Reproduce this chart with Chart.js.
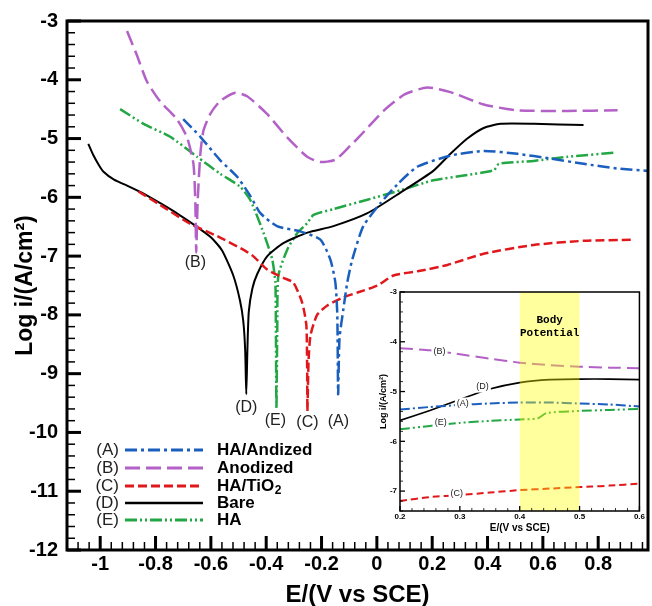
<!DOCTYPE html>
<html lang="en">
<head>
<meta charset="UTF-8">
<title>Potentiodynamic Polarization</title>
<style>
    body { margin: 0; padding: 0; background: #fff; }
    .wrap { position: relative; width: 652px; height: 606px; }
    #mainChart { position: absolute; left: 0; top: 0; }
    #insetChart { position: absolute; left: 376px; top: 284px; }
</style>
<script src="https://cdn.jsdelivr.net/npm/chart.js"></script>
</head>
<body>
<div class="wrap">
    <canvas id="mainChart" width="652" height="606"></canvas>
    <canvas id="insetChart" width="270" height="250"></canvas>
</div>
<script>
// ---- data: E (V vs SCE) and log i (A/cm2) ----
// (A) HA/Andized
const potA = [-0.70, -0.638, -0.566, -0.505, -0.457, -0.421, -0.361, -0.277, -0.204, -0.168, -0.150, -0.143, -0.140, -0.135, -0.121, -0.107, -0.089, -0.049, 0.013, 0.074, 0.146, 0.266, 0.386, 0.508, 0.627, 0.747, 0.870, 0.980];
const logA = [-4.67, -4.97, -5.37, -5.65, -5.98, -6.27, -6.49, -6.58, -6.72, -7.06, -7.45, -8.00, -9.35, -8.40, -7.90, -7.45, -7.06, -6.49, -6.10, -5.78, -5.48, -5.29, -5.21, -5.26, -5.34, -5.43, -5.51, -5.55];
// (B) Anodized
const potB = [-0.903, -0.870, -0.831, -0.783, -0.723, -0.686, -0.663, -0.656, -0.653, -0.648, -0.638, -0.627, -0.602, -0.566, -0.512, -0.469, -0.397, -0.324, -0.252, -0.204, -0.150, -0.096, -0.060, 0.024, 0.100, 0.182, 0.266, 0.386, 0.508, 0.689, 0.870];
const logB = [-3.17, -3.55, -4.03, -4.37, -4.67, -4.98, -5.43, -6.10, -6.94, -6.10, -5.26, -4.87, -4.58, -4.36, -4.22, -4.28, -4.58, -4.98, -5.31, -5.40, -5.36, -5.12, -4.95, -4.53, -4.25, -4.13, -4.21, -4.42, -4.52, -4.53, -4.52];
// (C) HA/TiO2
const potC = [-0.862, -0.783, -0.675, -0.577, -0.483, -0.447, -0.396, -0.338, -0.302, -0.270, -0.255, -0.252, -0.251, -0.247, -0.240, -0.216, -0.179, -0.121, -0.070, 0.002, 0.060, 0.157, 0.255, 0.386, 0.567, 0.747, 0.928];
const logC = [-5.90, -6.13, -6.45, -6.66, -6.89, -7.00, -7.23, -7.37, -7.45, -7.79, -8.17, -8.90, -9.64, -8.80, -8.35, -8.00, -7.84, -7.70, -7.62, -7.50, -7.33, -7.25, -7.15, -6.96, -6.81, -6.74, -6.72];
// (D) Bare
const potD = [-1.043, -1.025, -1.005, -0.989, -0.950, -0.903, -0.850, -0.783, -0.720, -0.663, -0.600, -0.560, -0.519, -0.495, -0.483, -0.476, -0.472, -0.468, -0.463, -0.450, -0.432, -0.396, -0.338, -0.251, -0.157, -0.034, 0.085, 0.204, 0.266, 0.327, 0.386, 0.447, 0.567, 0.747];
const logD = [-5.09, -5.28, -5.45, -5.56, -5.70, -5.80, -5.92, -6.10, -6.28, -6.46, -6.68, -6.90, -7.33, -7.75, -8.10, -8.60, -9.35, -8.60, -7.95, -7.55, -7.30, -7.00, -6.78, -6.60, -6.49, -6.27, -5.92, -5.55, -5.26, -5.00, -4.82, -4.75, -4.75, -4.77];
// (E) HA
const potE = [-0.928, -0.843, -0.747, -0.650, -0.566, -0.494, -0.457, -0.410, -0.378, -0.367, -0.365, -0.363, -0.360, -0.356, -0.324, -0.288, -0.252, -0.229, -0.157, -0.034, 0.085, 0.204, 0.327, 0.423, 0.441, 0.567, 0.689, 0.863];
const logE = [-4.50, -4.75, -4.97, -5.31, -5.60, -5.82, -6.05, -6.60, -7.06, -7.45, -8.20, -9.60, -8.20, -7.33, -6.89, -6.61, -6.44, -6.30, -6.20, -6.04, -5.88, -5.71, -5.62, -5.54, -5.43, -5.38, -5.31, -5.24];

// inset (zoom on 0.2 - 0.6 V)
const insetPot = [0.20, 0.25, 0.30, 0.35, 0.40, 0.45, 0.50, 0.55, 0.60];
const insetLogA = [-5.36, -5.31, -5.27, -5.24, -5.22, -5.22, -5.24, -5.26, -5.30];
const insetLogB = [-4.13, -4.17, -4.25, -4.34, -4.42, -4.47, -4.50, -4.52, -4.53];
const insetPotC = [0.20, 0.25, 0.30, 0.35, 0.40, 0.45, 0.50, 0.52, 0.55, 0.60];
const insetLogC = [-7.20, -7.12, -7.08, -7.03, -6.98, -6.95, -6.92, -6.91, -6.89, -6.85];
const insetLogD = [-5.58, -5.38, -5.16, -4.95, -4.82, -4.76, -4.75, -4.75, -4.76];
const insetPotE = [0.20, 0.25, 0.30, 0.35, 0.40, 0.43, 0.445, 0.50, 0.55, 0.60];
const insetLogE = [-5.76, -5.69, -5.63, -5.59, -5.56, -5.54, -5.43, -5.39, -5.37, -5.35];

const seriesTags = ['(A)', '(B)', '(C)', '(D)', '(E)'];
const seriesNames = ['HA/Andized', 'Anodized', 'HA/TiO2', 'Bare', 'HA'];

// tick labels
const xTicks = [-1, -0.8, -0.6, -0.4, -0.2, 0, 0.2, 0.4, 0.6, 0.8];
const yTicks = [-12, -11, -10, -9, -8, -7, -6, -5, -4, -3];
const insetXTicks = [0.2, 0.3, 0.4, 0.5, 0.6];
const insetYTicks = [-7, -6, -5, -4, -3];

// where the (A)..(E) tags sit, in data units
const mainTagPos = [[-0.139, -9.81], [-0.656, -7.11], [-0.251, -9.84], [-0.472, -9.57], [-0.367, -9.79]];
const insetTagPos = [[0.305, -5.24], [0.266, -4.20], [0.295, -7.04], [0.338, -4.90], [0.268, -5.62]];
const bodyBand = [0.4, 0.5];

// ---- styles ----
const styles = [
    { color: '#1b5fbe', width: 2.5, dash: [12, 4, 3, 4], insetDash: [10, 3, 2, 3] },
    { color: '#b361c7', width: 2.5, dash: [15, 6], insetDash: [13, 6] },
    { color: '#e0181c', width: 2.5, dash: [9, 4], insetDash: [7, 4] },
    { color: '#000000', width: 2, dash: [], insetDash: [] },
    { color: '#22a744', width: 2.5, dash: [12, 3, 2, 3, 2, 3], insetDash: [10, 3, 2, 3, 2, 3] }
];

const FONT = 'Arial, "Liberation Sans", sans-serif';

function pts(xs, ys) {
    return xs.map((x, i) => ({ x: x, y: ys[i] }));
}
function fmt(v) {
    return String(Number(v.toFixed(2)));
}

function drawFrameTicks(chart, cfg) {
    const { ctx, chartArea: a, scales } = chart;
    ctx.save();
    ctx.strokeStyle = '#000';
    [['x', cfg.xMajor, cfg.xMinor], ['y', cfg.yMajor, cfg.yMinor]].forEach(([id, major, minor]) => {
        const s = scales[id];
        const k0 = Math.ceil(s.min / minor - 1e-6);
        const k1 = Math.floor(s.max / minor + 1e-6);
        for (let k = k0; k <= k1; k++) {
            const v = k * minor;
            const r = v / major;
            const isMajor = Math.abs(r - Math.round(r)) < 1e-6;
            const len = isMajor ? cfg.majorLen : cfg.minorLen;
            ctx.lineWidth = isMajor ? cfg.majorWidth : cfg.minorWidth;
            const p = s.getPixelForValue(v);
            ctx.beginPath();
            if (id === 'x') {
                ctx.moveTo(p, a.bottom);
                ctx.lineTo(p, a.bottom - len);
            } else {
                ctx.moveTo(a.left, p);
                ctx.lineTo(a.left + len, p);
            }
            ctx.stroke();
        }
    });
    ctx.lineWidth = cfg.frameWidth;
    ctx.strokeRect(a.left, a.top, a.right - a.left, a.bottom - a.top);
    ctx.restore();
}

function drawTags(chart, positions, font, boxed) {
    const { ctx, scales: { x, y } } = chart;
    ctx.save();
    ctx.font = font;
    ctx.textAlign = 'center';
    ctx.textBaseline = 'middle';
    positions.forEach((p, i) => {
        const px = x.getPixelForValue(p[0]);
        const py = y.getPixelForValue(p[1]);
        if (boxed) {
            const w = ctx.measureText(seriesTags[i]).width + 4;
            ctx.fillStyle = '#fff';
            ctx.fillRect(px - w / 2, py - 6, w, 12);
        }
        ctx.fillStyle = '#222';
        ctx.fillText(seriesTags[i], px, py);
    });
    ctx.restore();
}

function drawLegend(chart) {
    const ctx = chart.ctx;
    const rows = [450, 468, 486, 503, 520];
    ctx.save();
    rows.forEach((ry, i) => {
        const st = styles[i];
        ctx.font = '17px ' + FONT;
        ctx.fillStyle = '#222';
        ctx.textAlign = 'right';
        ctx.textBaseline = 'middle';
        ctx.fillText(seriesTags[i], 119, ry);
        ctx.strokeStyle = st.color;
        ctx.lineWidth = st.width + 0.5;
        ctx.setLineDash(st.dash);
        ctx.beginPath();
        ctx.moveTo(125, ry);
        ctx.lineTo(203, ry);
        ctx.stroke();
        ctx.setLineDash([]);
        ctx.fillStyle = '#000';
        ctx.textAlign = 'left';
        ctx.font = 'bold 17px ' + FONT;
        const name = seriesNames[i];
        if (name.endsWith('O2')) {
            const base = name.slice(0, -1);
            ctx.fillText(base, 217, ry);
            const w = ctx.measureText(base).width;
            ctx.font = 'bold 12px ' + FONT;
            ctx.fillText('2', 217 + w + 0.5, ry + 5);
        } else {
            ctx.fillText(name, 217, ry);
        }
    });
    ctx.restore();
}

const mainPlugin = {
    id: 'mainDecor',
    afterDraw(chart) {
        drawFrameTicks(chart, { xMajor: 0.2, xMinor: 0.04, yMajor: 1, yMinor: 0.2, majorLen: 14, minorLen: 8, majorWidth: 3, minorWidth: 1.5, frameWidth: 3 });
        drawTags(chart, mainTagPos, '16px ' + FONT, false);
        drawLegend(chart);
    }
};

const insetPlugin = {
    id: 'insetDecor',
    afterDatasetsDraw(chart) {
        const { ctx, chartArea: a, scales: { x, y } } = chart;
        const x0 = x.getPixelForValue(bodyBand[0]);
        const x1 = x.getPixelForValue(bodyBand[1]);
        ctx.save();
        ctx.fillStyle = 'rgba(255, 255, 0, 0.38)';
        ctx.fillRect(x0, a.top, x1 - x0, a.bottom - a.top);
        ctx.fillStyle = '#000';
        ctx.font = 'bold 11px "Courier New", "Liberation Mono", monospace';
        ctx.textAlign = 'center';
        ctx.textBaseline = 'middle';
        const cx = x.getPixelForValue((bodyBand[0] + bodyBand[1]) / 2);
        ctx.fillText('Body', cx, y.getPixelForValue(-3.56));
        ctx.fillText('Potential', cx, y.getPixelForValue(-3.82));
        ctx.restore();
    },
    afterDraw(chart) {
        drawTags(chart, insetTagPos, '9px ' + FONT, true);
        drawFrameTicks(chart, { xMajor: 0.1, xMinor: 0.02, yMajor: 1, yMinor: 0.2, majorLen: 5, minorLen: 3, majorWidth: 1.3, minorWidth: 0.8, frameWidth: 1.5 });
    }
};

function makeDatasets(list, dashKey, widthScale) {
    return list.map((d, i) => ({
        label: seriesNames[i],
        data: d,
        borderColor: styles[i].color,
        borderWidth: styles[i].width * widthScale,
        borderDash: styles[i][dashKey],
        pointRadius: 0,
        fill: false,
        tension: 0.2
    }));
}

const mainData = [pts(potA, logA), pts(potB, logB), pts(potC, logC), pts(potD, logD), pts(potE, logE)];
const insetData = [pts(insetPot, insetLogA), pts(insetPot, insetLogB), pts(insetPotC, insetLogC), pts(insetPot, insetLogD), pts(insetPotE, insetLogE)];

new Chart(document.getElementById('mainChart').getContext('2d'), {
    type: 'line',
    data: { datasets: makeDatasets(mainData, 'dash', 1) },
    options: {
        responsive: false,
        animation: false,
        layout: { padding: { top: 16, right: 4, left: 0, bottom: 0 } },
        plugins: { legend: { display: false }, tooltip: { enabled: false } },
        scales: {
            x: {
                type: 'linear',
                min: -1.12,
                max: 0.98,
                grid: { display: false, drawTicks: false },
                border: { display: false },
                afterBuildTicks: s => { s.ticks = xTicks.map(v => ({ value: v })); },
                afterFit: s => { s.height = 56; },
                ticks: { padding: 2, color: '#000', maxRotation: 0, autoSkip: false, font: { family: FONT, size: 20, weight: 'bold' }, callback: v => fmt(v) },
                title: { display: true, text: 'E/(V vs SCE)', color: '#000', padding: { top: 0, bottom: 0 }, font: { family: FONT, size: 24, weight: 'bold', lineHeight: 0.9 } }
            },
            y: {
                min: -12,
                max: -3,
                grid: { display: false, drawTicks: false },
                border: { display: false },
                afterBuildTicks: s => { s.ticks = yTicks.map(v => ({ value: v })); },
                afterFit: s => { s.width = 67; },
                ticks: { padding: 9, color: '#000', autoSkip: false, font: { family: FONT, size: 20, weight: 'bold' }, callback: v => fmt(v) },
                title: { display: true, text: 'Log i/(A/cm²)', color: '#000', padding: { top: 12, bottom: 0 }, font: { family: FONT, size: 23, weight: 'bold', lineHeight: 1.2 } }
            }
        }
    },
    plugins: [mainPlugin]
});

new Chart(document.getElementById('insetChart').getContext('2d'), {
    type: 'line',
    data: { datasets: makeDatasets(insetData, 'insetDash', 0.8) },
    options: {
        responsive: false,
        animation: false,
        layout: { padding: { top: 8, right: 4, left: 0, bottom: 0 } },
        plugins: { legend: { display: false }, tooltip: { enabled: false } },
        scales: {
            x: {
                type: 'linear',
                min: 0.2,
                max: 0.6,
                grid: { display: false, drawTicks: false },
                border: { display: false },
                afterBuildTicks: s => { s.ticks = insetXTicks.map(v => ({ value: v })); },
                afterFit: s => { s.height = 23; },
                ticks: { padding: 1, color: '#000', maxRotation: 0, autoSkip: false, font: { family: FONT, size: 8, weight: 'bold' }, callback: v => fmt(v) },
                title: { display: true, text: 'E/(V vs SCE)', color: '#000', padding: { top: 0, bottom: 0 }, font: { family: FONT, size: 10, weight: 'bold', lineHeight: 1.2 } }
            },
            y: {
                min: -7.4,
                max: -3,
                grid: { display: false, drawTicks: false },
                border: { display: false },
                afterBuildTicks: s => { s.ticks = insetYTicks.map(v => ({ value: v })); },
                afterFit: s => { s.width = 24; },
                ticks: { padding: 3, color: '#000', autoSkip: false, font: { family: FONT, size: 8, weight: 'bold' }, callback: v => fmt(v) },
                title: { display: true, text: 'Log i/(A/cm²)', color: '#000', padding: { top: 2, bottom: 0 }, font: { family: FONT, size: 9, weight: 'bold', lineHeight: 1.2 } }
            }
        }
    },
    plugins: [insetPlugin]
});
</script>
</body>
</html>
